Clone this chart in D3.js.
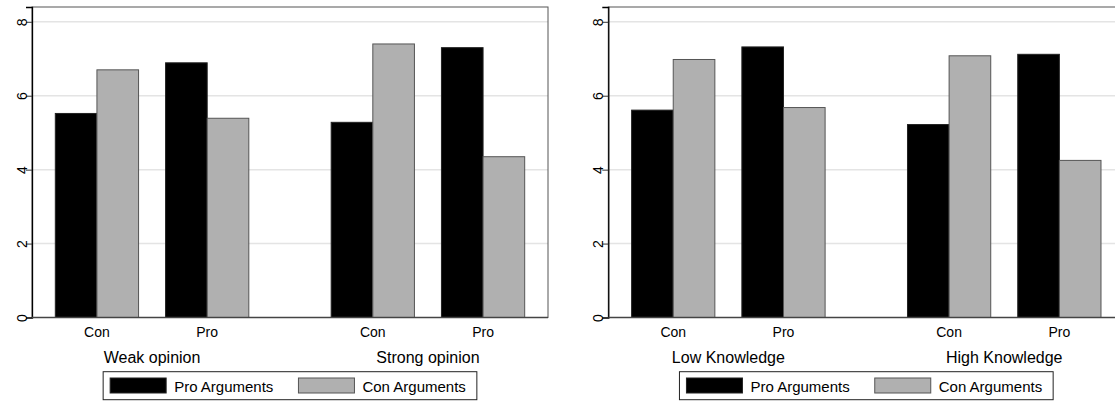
<!DOCTYPE html>
<html>
<head>
<meta charset="utf-8">
<script src="https://cdn.jsdelivr.net/npm/d3@7"></script>
<style>
  body { margin: 0; background: #fff; }
  text { font-family: "Liberation Sans", Arial, sans-serif; fill: #000; }
</style>
</head>
<body>
<script>
const WIDTH = 1115;
const HEIGHT = 401;
const PLOTW = 516;
const TOP = 7;
const BOTTOM = 317.5;

// data
const categories = ["Con", "Pro"];
const series = ["Pro Arguments", "Con Arguments"];
const yTicks = [0, 2, 4, 6, 8];

const opinionGroups = ["Weak opinion", "Strong opinion"];
const opinionPro = [5.52, 6.89, 5.28, 7.30];   // weak-con, weak-pro, strong-con, strong-pro
const opinionCon = [6.70, 5.39, 7.40, 4.35];

const knowledgeGroups = ["Low Knowledge", "High Knowledge"];
const knowledgePro = [5.61, 7.32, 5.22, 7.12];
const knowledgeCon = [6.98, 5.68, 7.08, 4.25];

const colors = { "Pro Arguments": "#000000", "Con Arguments": "#b0b0b0" };
const strokes = { "Pro Arguments": "#222222", "Con Arguments": "#555555" };

const svg = d3.select('body')
    .append('svg')
    .attr('width', WIDTH)
    .attr('height', HEIGHT);

const y = d3.scaleLinear()
    .domain([0, 8.4])
    .range([BOTTOM, TOP]);

function drawPanel(x0, groups, proVals, conVals) {
    const g = svg.append('g')
        .attr('transform', `translate(${x0}, 0)`);

    const outer = d3.scaleBand()
        .domain(groups)
        .range([0, PLOTW])
        .paddingInner(0.2986)
        .paddingOuter(0.0845);
    const inner = d3.scaleBand()
        .domain(categories)
        .range([0, outer.bandwidth()])
        .paddingInner(0.245)
        .paddingOuter(0);
    const sub = d3.scaleBand()
        .domain(series)
        .range([0, inner.bandwidth()])
        .padding(0);

    // grid lines
    g.selectAll('.grid')
        .data(yTicks.filter(d => d > 0))
        .join('line')
        .attr('x1', 0).attr('x2', PLOTW)
        .attr('y1', d => y(d)).attr('y2', d => y(d))
        .attr('stroke', '#e4e4e4')
        .attr('stroke-width', 1.5);

    // plot frame
    g.append('rect')
        .attr('x', 0).attr('y', TOP)
        .attr('width', PLOTW).attr('height', BOTTOM - TOP)
        .attr('fill', 'none')
        .attr('stroke', '#555')
        .attr('stroke-width', 1);

    // bars
    const rows = [];
    groups.forEach((grp, gi) => {
        categories.forEach((cat, ci) => {
            const i = gi * 2 + ci;
            rows.push({ grp, cat, s: series[0], v: proVals[i] });
            rows.push({ grp, cat, s: series[1], v: conVals[i] });
        });
    });
    g.selectAll('.bar')
        .data(rows)
        .join('rect')
        .attr('x', d => outer(d.grp) + inner(d.cat) + sub(d.s))
        .attr('y', d => y(d.v))
        .attr('width', sub.bandwidth())
        .attr('height', d => y(0) - y(d.v))
        .attr('fill', d => colors[d.s])
        .attr('stroke', d => strokes[d.s])
        .attr('stroke-width', 1);

    // y axis
    const yAxis = g.append('g')
        .call(d3.axisLeft(y).tickValues(yTicks).tickSize(6).tickFormat(d3.format('d')));
    yAxis.select('.domain').attr('stroke', '#000').attr('stroke-width', 1.3);
    yAxis.selectAll('.tick line').attr('stroke', '#333');
    yAxis.selectAll('.tick text')
        .attr('x', null).attr('dy', '0.35em')
        .attr('transform', 'translate(-10,0) rotate(-90)')
        .attr('text-anchor', 'middle')
        .style('font-size', '14px')
        .style('font-family', '"Liberation Sans", Arial, sans-serif');

    // baseline
    g.append('line')
        .attr('x1', 0).attr('x2', PLOTW)
        .attr('y1', y(0)).attr('y2', y(0))
        .attr('stroke', '#444')
        .attr('stroke-width', 1.3);

    // category labels
    groups.forEach(grp => {
        g.selectAll(null)
            .data(categories)
            .join('text')
            .attr('x', d => outer(grp) + inner(d) + inner.bandwidth() / 2)
            .attr('y', 337)
            .attr('text-anchor', 'middle')
            .style('font-size', '14px')
            .text(d => d);
    });
    g.selectAll('.grp')
        .data(groups)
        .join('text')
        .attr('x', d => outer(d) + outer.bandwidth() / 2)
        .attr('y', 363)
        .attr('text-anchor', 'middle')
        .style('font-size', '16px')
        .text(d => d);

    // legend
    const lw = 373.7;
    const lx = PLOTW / 2 - lw / 2;
    const legend = g.append('g')
        .attr('transform', `translate(${lx}, 371.7)`);
    legend.append('rect')
        .attr('width', lw).attr('height', 28)
        .attr('fill', '#fff')
        .attr('stroke', '#222')
        .attr('stroke-width', 1);
    const offsets = [7, 195.3];
    series.forEach((s, i) => {
        legend.append('rect')
            .attr('x', offsets[i]).attr('y', 6.3)
            .attr('width', 56).attr('height', 15)
            .attr('fill', colors[s])
            .attr('stroke', strokes[s])
            .attr('stroke-width', 1);
        legend.append('text')
            .attr('x', offsets[i] + 64)
            .attr('y', 20.5)
            .style('font-size', '15px')
            .text(s);
    });
}

drawPanel(32, opinionGroups, opinionPro, opinionCon);
drawPanel(608.3, knowledgeGroups, knowledgePro, knowledgeCon);
</script>
</body>
</html>
